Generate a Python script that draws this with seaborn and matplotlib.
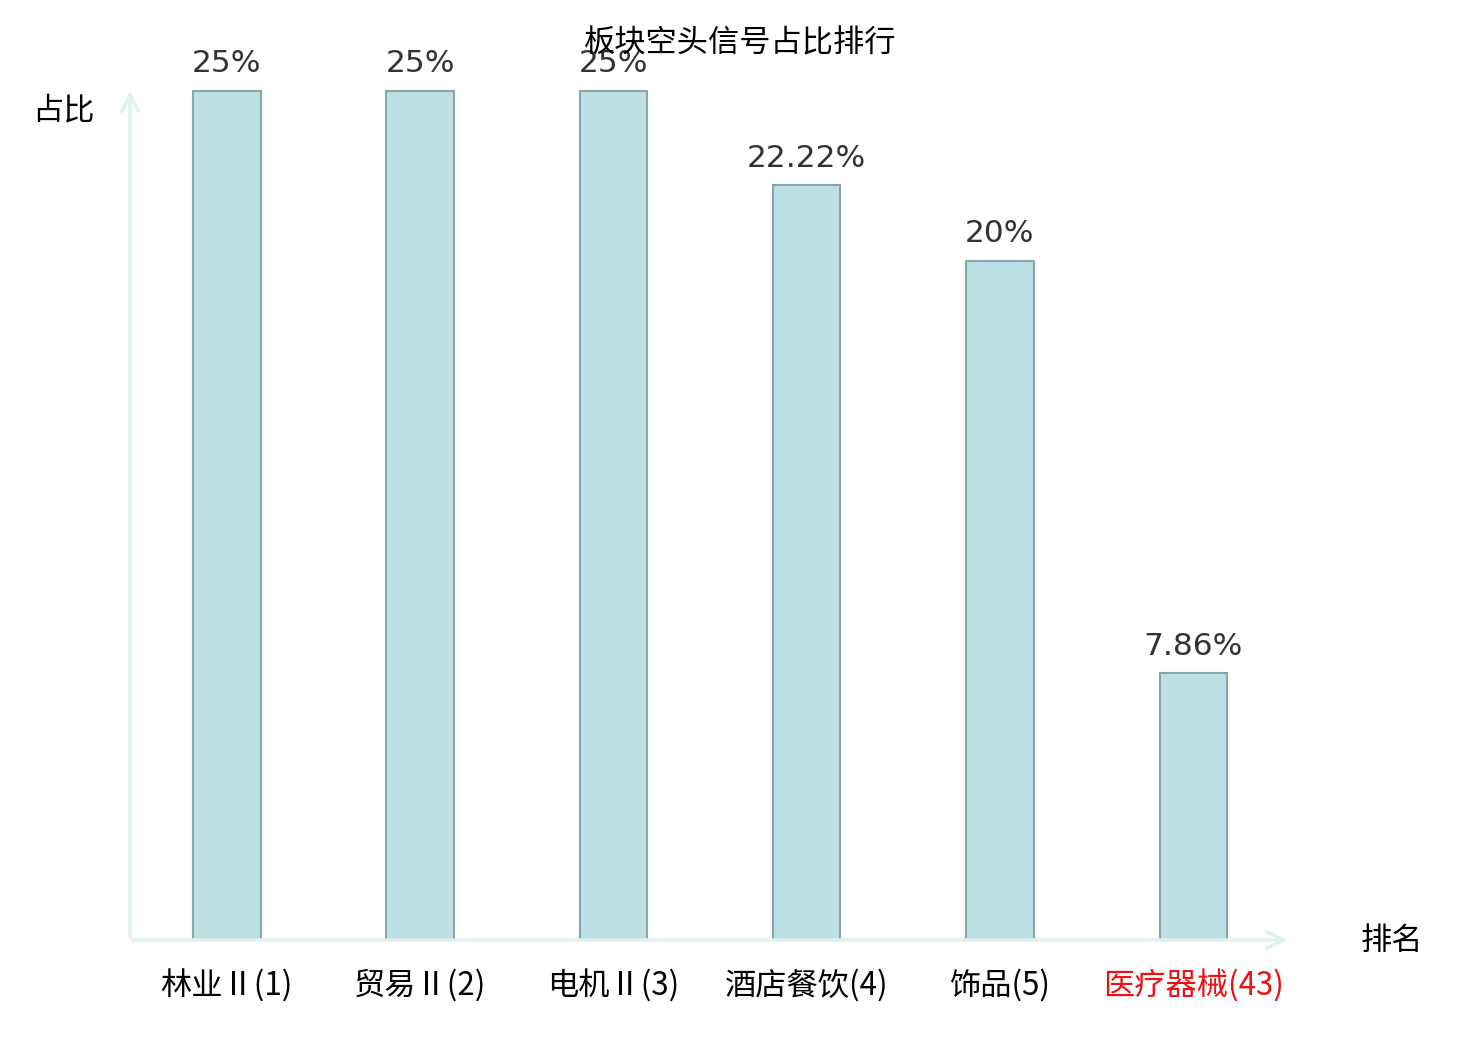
import pandas as pd
import matplotlib.pyplot as plt
import seaborn as sns

# 板块空头信号占比排行
sectors = ['林业Ⅱ(1)', '贸易Ⅱ(2)', '电机Ⅱ(3)', '酒店餐饮(4)', '饰品(5)', '医疗器械(43)']
ratios = [25, 25, 25, 22.22, 20, 7.86]
ratio_labels = ['25%', '25%', '25%', '22.22%', '20%', '7.86%']

df = pd.DataFrame({'sector': sectors, 'ratio': ratios})

sns.set_theme(style='white')
plt.rcParams['font.family'] = ['Noto Sans CJK SC', 'DejaVu Sans']

fig = plt.figure(figsize=(14.8, 10.4), dpi=100)
ax = fig.add_axes([130 / 1480, 100 / 1040, 1160 / 1480, 852 / 1040])

sns.barplot(x='sector', y='ratio', data=df, ax=ax, width=0.35,
            color='#bce0e3', edgecolor='#8aa6a6', linewidth=1.5, saturation=1)

for i, (v, lab) in enumerate(zip(ratios, ratio_labels)):
    ax.annotate(lab, xy=(i, v), xytext=(0, 9), textcoords='offset points',
                ha='center', va='bottom', fontsize=22.5, color='#333333',
                family='DejaVu Sans')

ax.set_xlim(-0.5, 5.5)
ax.set_ylim(0, 25 * 852 / 849)
ax.set_xlabel('')
ax.set_ylabel('')
ax.set_yticks([])
for s in ax.spines.values():
    s.set_visible(False)

ax.tick_params(axis='x', length=0, pad=21, labelsize=22.5)
for t in ax.get_xticklabels():
    t.set_color('black')
ax.get_xticklabels()[-1].set_color('#ee1111')

# axis arrows
axis_col = '#def2ef'
ax.annotate('', xy=(1.0, 0), xytext=(0, 0), xycoords='axes fraction',
            arrowprops=dict(arrowstyle='->', color=axis_col, lw=2.5, mutation_scale=30))
ax.annotate('', xy=(0, 1.0), xytext=(0, 0), xycoords='axes fraction',
            arrowprops=dict(arrowstyle='->', color=axis_col, lw=2.5, mutation_scale=30))

fig.text(1392 / 1480, 1 - 941 / 1040, '排名', ha='center', va='center', fontsize=22.5, color='black')
fig.text(63 / 1480, 1 - 110 / 1040, '占比', ha='center', va='center', fontsize=22.5, color='black')
fig.text(0.5, 1 - 43 / 1040, '板块空头信号占比排行', ha='center', va='center', fontsize=22.5, color='black')

fig.savefig('out.png', dpi=100)
